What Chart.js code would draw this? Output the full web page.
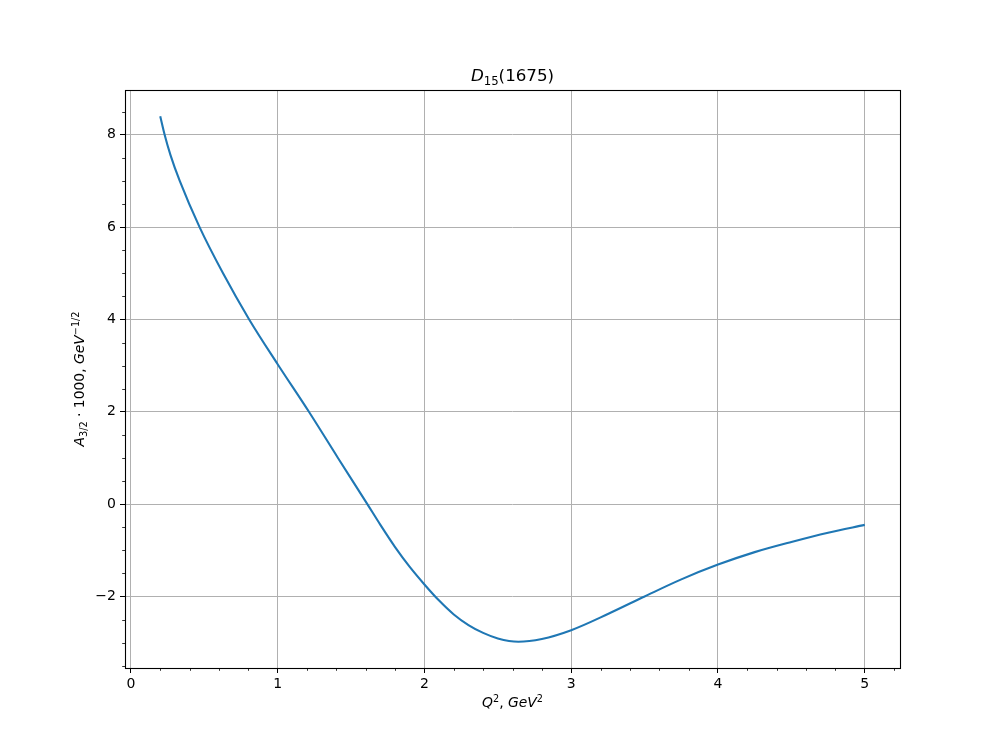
<!DOCTYPE html>
<html>
<head>
<meta charset="utf-8">
<script src="https://cdn.jsdelivr.net/npm/chart.js@4/dist/chart.umd.min.js"></script>
<style>
  body { margin: 0; background: #fff; }
  #wrap { width: 1000px; height: 750px; }
</style>
</head>
<body>
<div id="wrap"><canvas id="chart" width="1000" height="750"></canvas></div>
<script>
// Q^2 values (GeV^2) and A_3/2 * 1000
const qSquared = [0.2, 0.23, 0.27, 0.333, 0.468, 0.628, 0.806, 1.0, 1.213, 1.411,
                  1.611, 1.7, 1.8, 1.9, 2.0, 2.1, 2.2, 2.3, 2.4, 2.5,
                  2.64, 2.8, 3.0, 3.25, 3.5, 3.75, 4.0, 4.25, 4.5, 4.75, 5.0];
const a32 = [8.40, 8.0, 7.56, 7.0, 6.0, 5.0, 4.0, 3.03, 2.0, 1.0,
             0.0, -0.45, -0.93, -1.36, -1.74, -2.09, -2.39, -2.62, -2.79, -2.91,
             -2.98, -2.92, -2.73, -2.38, -2.0, -1.63, -1.31, -1.04, -0.82, -0.62, -0.45];

const xTicks = [0, 1, 2, 3, 4, 5];
const yTicks = [-2, 0, 2, 4, 6, 8];
const xMinorTicks = [0.2, 0.4, 0.6, 0.8, 1.2, 1.4, 1.6, 1.8, 2.2, 2.4, 2.6, 2.8,
                     3.2, 3.4, 3.6, 3.8, 4.2, 4.4, 4.6, 4.8, 5.2];
const yMinorTicks = [-3.5, -3, -2.5, -1.5, -1, -0.5, 0.5, 1, 1.5, 2.5, 3, 3.5,
                     4.5, 5, 5.5, 6.5, 7, 7.5, 8.5];

const FONT = "'DejaVu Sans', sans-serif";

// draws text pieces with italic / sub / superscript, centred on (x, y)
function drawRich(ctx, parts, x, y, angle) {
  ctx.save();
  ctx.translate(x, y);
  ctx.rotate(angle);
  ctx.fillStyle = '#000';
  ctx.textBaseline = 'alphabetic';
  ctx.textAlign = 'left';
  let total = 0;
  parts.forEach(p => {
    ctx.font = (p.it ? 'italic ' : '') + p.s + 'px ' + FONT;
    p.w = ctx.measureText(p.t).width;
    total += p.w;
  });
  let cx = -total / 2;
  parts.forEach(p => {
    ctx.font = (p.it ? 'italic ' : '') + p.s + 'px ' + FONT;
    ctx.fillText(p.t, cx, p.dy || 0);
    cx += p.w;
  });
  ctx.restore();
}

const extras = {
  id: 'extras',
  afterDraw(chart) {
    const ctx = chart.ctx;
    const area = chart.chartArea;
    const xs = chart.scales.x, ys = chart.scales.y;

    // frame
    ctx.save();
    ctx.strokeStyle = '#000';
    ctx.lineWidth = 1.1;
    ctx.strokeRect(Math.round(area.left) + 0.5, Math.round(area.top) + 0.5,
                   Math.round(area.right - area.left), Math.round(area.bottom - area.top));

    // minor ticks
    ctx.lineWidth = 0.8;
    ctx.beginPath();
    xMinorTicks.forEach(v => {
      const px = Math.round(xs.getPixelForValue(v)) + 0.5;
      ctx.moveTo(px, area.bottom);
      ctx.lineTo(px, area.bottom + 2.8);
    });
    yMinorTicks.forEach(v => {
      const py = Math.round(ys.getPixelForValue(v)) + 0.5;
      ctx.moveTo(area.left, py);
      ctx.lineTo(area.left - 2.8, py);
    });
    ctx.stroke();
    ctx.restore();

    const midX = (area.left + area.right) / 2;
    const midY = (area.top + area.bottom) / 2;

    drawRich(ctx, [
      { t: 'D', it: true, s: 16.7 },
      { t: '15', s: 11.7, dy: 3.5 },
      { t: '(1675)', s: 16.7 }
    ], midX, 81, 0);

    drawRich(ctx, [
      { t: 'Q', it: true, s: 13.9 },
      { t: '2', s: 9.7, dy: -5.5 },
      { t: ', ', s: 13.9 },
      { t: 'GeV', it: true, s: 13.9 },
      { t: '2', s: 9.7, dy: -5.5 }
    ], midX, 707, 0);

    drawRich(ctx, [
      { t: 'A', it: true, s: 13.9 },
      { t: '3/2', s: 9.7, dy: 3 },
      { t: ' \u00b7 1000, ', s: 13.9 },
      { t: 'GeV', it: true, s: 13.9 },
      { t: '\u22121/2', s: 9.7, dy: -5.5 }
    ], 84, midY, -Math.PI / 2);
  }
};

const ctx = document.getElementById('chart').getContext('2d');
new Chart(ctx, {
  type: 'line',
  data: {
    datasets: [{
      data: qSquared.map((q, i) => ({ x: q, y: a32[i] })),
      borderColor: '#1f77b4',
      borderWidth: 2.1,
      pointRadius: 0,
      fill: false,
      cubicInterpolationMode: 'monotone'
    }]
  },
  options: {
    responsive: false,
    animation: false,
    layout: { padding: { top: 90, right: 100, left: 0, bottom: 0 } },
    plugins: {
      legend: { display: false },
      tooltip: { enabled: false },
      title: { display: false }
    },
    scales: {
      x: {
        type: 'linear',
        min: -0.04,
        max: 5.24,
        afterBuildTicks: s => { s.ticks = xTicks.map(v => ({ value: v })); },
        afterFit: s => { s.height = 82; },
        border: { display: false },
        grid: { color: '#b0b0b0', lineWidth: 1, tickColor: '#000', tickLength: 5 },
        ticks: { color: '#000', font: { family: FONT, size: 14 }, padding: 3, maxRotation: 0 }
      },
      y: {
        type: 'linear',
        min: -3.55,
        max: 8.97,
        afterBuildTicks: s => { s.ticks = yTicks.map(v => ({ value: v })); },
        afterFit: s => { s.width = 125; },
        border: { display: false },
        grid: { color: '#b0b0b0', lineWidth: 1, tickColor: '#000', tickLength: 5 },
        ticks: {
          color: '#000', font: { family: FONT, size: 14 }, padding: 4,
          callback: v => (v < 0 ? '\u2212' + Math.abs(v) : String(v))
        }
      }
    }
  },
  plugins: [extras]
});
</script>
</body>
</html>
